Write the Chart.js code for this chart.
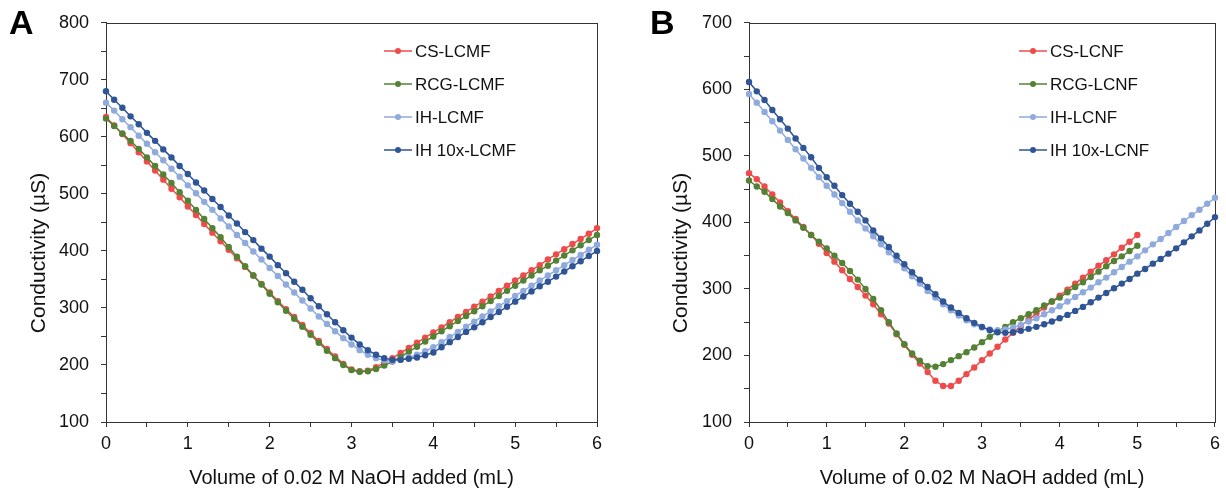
<!DOCTYPE html>
<html>
<head>
<meta charset="utf-8">
<script src="https://cdn.jsdelivr.net/npm/chart.js@4.4.1/dist/chart.umd.min.js"></script>
<style>
  body { margin: 0; background: #fff; }
  #wrap { position: relative; width: 1226px; height: 490px; overflow: hidden; background: #fff; }
  .panel { position: absolute; top: 0; width: 613px; height: 490px; }
  .letter { position: absolute; font: bold 34px Arial, "Liberation Sans", sans-serif; color: #000; }
</style>
</head>
<body>
<div id="wrap">
  <div class="panel" style="left:0"><canvas id="chartA"></canvas></div>
  <div class="panel" style="left:613px"><canvas id="chartB"></canvas></div>
  <div class="letter" style="left:9px;top:3px">A</div>
  <div class="letter" style="left:650px;top:3px">B</div>
</div>
<script>
// volume of NaOH added (mL)
const volume = [0, 0.1, 0.2, 0.3, 0.4, 0.5, 0.6, 0.7, 0.8, 0.9,
  1, 1.1, 1.2, 1.3, 1.4, 1.5, 1.6, 1.7, 1.8, 1.9,
  2, 2.1, 2.2, 2.3, 2.4, 2.5, 2.6, 2.7, 2.8, 2.9,
  3, 3.1, 3.2, 3.3, 3.4, 3.5, 3.6, 3.7, 3.8, 3.9,
  4, 4.1, 4.2, 4.3, 4.4, 4.5, 4.6, 4.7, 4.8, 4.9,
  5, 5.1, 5.2, 5.3, 5.4, 5.5, 5.6, 5.7, 5.8, 5.9, 6];

// panel A - LCMF conductivity (uS)
const csA = [635, 620, 605, 589, 573, 557, 541, 525, 509, 494,
  478, 463, 447, 432, 417, 402, 387, 372, 357, 342,
  327, 312, 298, 284, 270, 256, 242, 228, 215, 202,
  192, 189, 190, 196, 204, 212, 221, 230, 239, 248,
  257, 266, 275, 284, 293, 302, 311, 320, 330, 339,
  348, 357, 366, 375, 385, 394, 403, 412, 421, 430, 440];
const rcgA = [632, 619, 606, 593, 579, 564, 549, 534, 519, 503,
  488, 472, 456, 440, 424, 407, 390, 373, 357, 341,
  325, 310, 295, 281, 267, 253, 239, 225, 212, 200,
  191, 188, 189, 193, 199, 206, 214, 223, 232, 241,
  250, 259, 268, 277, 286, 294, 303, 312, 321, 330,
  339, 348, 357, 366, 374, 383, 392, 401, 410, 419, 428];
const ihA = [660, 646, 631, 617, 602, 588, 573, 559, 544, 530,
  515, 501, 486, 472, 457, 443, 428, 414, 399, 385,
  370, 356, 341, 327, 313, 299, 285, 272, 259, 247,
  236, 226, 218, 212, 208, 207, 209, 213, 218, 224,
  231, 240, 249, 258, 267, 276, 285, 294, 303, 312,
  321, 330, 339, 348, 357, 366, 375, 384, 393, 402, 411];
const ih10A = [680, 665, 651, 636, 622, 607, 593, 578, 564, 549,
  535, 520, 506, 491, 477, 462, 448, 433, 419, 404,
  390, 375, 361, 346, 332, 317, 303, 289, 275, 261,
  248, 236, 226, 218, 212, 209, 209, 211, 213, 217,
  222, 231, 240, 249, 258, 266, 275, 284, 293, 302,
  311, 320, 329, 338, 346, 355, 364, 373, 382, 391, 400];

// panel B - LCNF conductivity (uS), CS and RCG stop at 5 mL
const csB = [474, 465, 454, 442, 430, 417, 405, 393, 381, 368,
  354, 341, 328, 315, 303, 290, 277, 262, 248, 232,
  216, 201, 188, 175, 162, 154, 154, 162, 172, 182,
  193, 203, 213, 224, 234, 244, 254, 263, 272, 281,
  290, 299, 308, 317, 326, 335, 343, 352, 362, 371, 381];
const rcgB = [463, 454, 446, 435, 424, 414, 403, 392, 381, 371,
  361, 350, 339, 327, 314, 300, 285, 268, 250, 233,
  217, 203, 192, 184, 183, 187, 193, 199, 205, 212,
  220, 228, 236, 243, 250, 256, 262, 268, 275, 281,
  287, 295, 303, 310, 318, 326, 334, 342, 349, 357, 365];
const ihB = [593, 580, 566, 552, 538, 524, 510, 496, 482, 468,
  455, 442, 429, 416, 403, 391, 379, 367, 355, 343,
  331, 319, 308, 297, 287, 277, 268, 260, 253, 247,
  242, 239, 238, 239, 242, 246, 251, 256, 262, 268,
  274, 281, 288, 295, 302, 310, 317, 325, 333, 341,
  349, 358, 367, 375, 384, 393, 402, 411, 419, 428, 437];
const ih10B = [611, 597, 584, 569, 555, 541, 526, 512, 498, 482,
  468, 455, 441, 428, 416, 403, 388, 376, 363, 350,
  337, 325, 314, 303, 292, 281, 272, 264, 256, 249,
  243, 238, 235, 234, 235, 237, 240, 243, 247, 251,
  256, 261, 267, 273, 280, 287, 294, 301, 308, 315,
  323, 330, 338, 345, 353, 361, 370, 379, 388, 398, 408];

const FONT = 'Arial, "Liberation Sans", sans-serif';
const RED = '#F04B4B', GREEN = '#548235', LIGHT = '#8FAADC', DARK = '#2F5597';
const AXIS = '#333333';

function makeSet(label, ys, color, order) {
  return {
    label: label,
    data: ys.map((y, i) => ({ x: volume[i], y: y })),
    borderColor: color,
    backgroundColor: color,
    borderWidth: 1.5,
    pointRadius: 3.2,
    pointBorderWidth: 0,
    pointBackgroundColor: color,
    clip: false,
    order: order
  };
}

// frame, legend and y title drawn on the canvas
const decor = {
  id: 'decor',
  beforeDatasetsDraw(chart) {
    const a = chart.chartArea, ctx = chart.ctx;
    ctx.save();
    ctx.strokeStyle = AXIS;
    ctx.lineWidth = 1;
    ctx.strokeRect(Math.round(a.left) + 0.5, Math.round(a.top) + 0.5,
      Math.round(a.right - a.left), Math.round(a.bottom - a.top));
    ctx.restore();
  },
  afterDraw(chart, args, opts) {
    const ctx = chart.ctx;
    ctx.save();
    // legend
    ctx.font = '17px ' + FONT;
    ctx.textBaseline = 'middle';
    ctx.textAlign = 'left';
    chart.data.datasets.forEach((ds, i) => {
      const y = opts.legendY + i * opts.legendStep;
      ctx.strokeStyle = ds.borderColor;
      ctx.lineWidth = 1.5;
      ctx.beginPath();
      ctx.moveTo(opts.legendX, y);
      ctx.lineTo(opts.legendX + 28, y);
      ctx.stroke();
      ctx.fillStyle = ds.borderColor;
      ctx.beginPath();
      ctx.arc(opts.legendX + 14, y, 3, 0, Math.PI * 2);
      ctx.fill();
      ctx.fillStyle = '#111';
      ctx.fillText(ds.label, opts.legendX + 31, y + 1);
    });
    // y axis title
    ctx.translate(opts.titleX, opts.titleY);
    ctx.rotate(-Math.PI / 2);
    ctx.font = '21px ' + FONT;
    ctx.textAlign = 'center';
    ctx.fillStyle = '#111';
    ctx.fillText('Conductivity (µS)', 0, 0);
    ctx.restore();
  }
};

function makeOptions(yMax, axisWidth, padRight, deco) {
  return {
    responsive: true,
    maintainAspectRatio: false,
    animation: false,
    devicePixelRatio: 1,
    layout: { padding: { top: 21, right: padRight, left: 0, bottom: 0 } },
    plugins: {
      legend: { display: false },
      tooltip: { enabled: false },
      decor: deco
    },
    scales: {
      x: {
        type: 'linear', min: 0, max: 6,
        ticks: {
          stepSize: 0.5, autoSkip: false, maxRotation: 0, padding: 6,
          color: '#111', font: { size: 18, family: FONT },
          callback: v => Number.isInteger(v) ? v : ''
        },
        grid: { drawOnChartArea: false, tickLength: 5, color: AXIS, tickColor: AXIS },
        border: { color: AXIS, width: 1 },
        title: {
          display: true, text: 'Volume of 0.02 M NaOH added (mL)', color: '#111',
          font: { size: 20, family: FONT }, padding: { top: 0, bottom: 0 }
        },
        afterFit: s => { s.height = 68; }
      },
      y: {
        min: 100, max: yMax,
        ticks: {
          stepSize: 50, autoSkip: false, padding: 12,
          color: '#111', font: { size: 18, family: FONT },
          callback: v => v % 100 === 0 ? v : ''
        },
        grid: { drawOnChartArea: false, tickLength: 5, color: AXIS, tickColor: AXIS },
        border: { color: AXIS, width: 1 },
        afterFit: s => { s.width = axisWidth; }
      }
    }
  };
}

new Chart(document.getElementById('chartA'), {
  type: 'line',
  data: {
    datasets: [
      makeSet('CS-LCMF', csA, RED, 4),
      makeSet('RCG-LCMF', rcgA, GREEN, 3),
      makeSet('IH-LCMF', ihA, LIGHT, 2),
      makeSet('IH 10x-LCMF', ih10A, DARK, 1)
    ]
  },
  options: makeOptions(800, 106, 16, { legendX: 384, legendY: 51, legendStep: 33, titleX: 39, titleY: 253 }),
  plugins: [decor]
});

new Chart(document.getElementById('chartB'), {
  type: 'line',
  data: {
    datasets: [
      makeSet('CS-LCNF', csB, RED, 4),
      makeSet('RCG-LCNF', rcgB, GREEN, 3),
      makeSet('IH-LCNF', ihB, LIGHT, 2),
      makeSet('IH 10x-LCNF', ih10B, DARK, 1)
    ]
  },
  options: makeOptions(700, 136, 6, { legendX: 406, legendY: 51, legendStep: 33, titleX: 68, titleY: 253 }),
  plugins: [decor]
});
</script>
</body>
</html>
